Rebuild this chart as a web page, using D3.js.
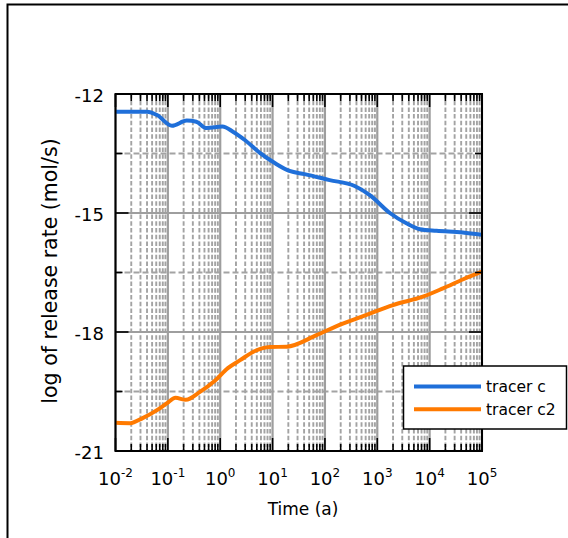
<!DOCTYPE html>
<html>
<head>
<meta charset="utf-8">
<script src="https://cdn.jsdelivr.net/npm/d3@7"></script>
<style>
  html, body { margin: 0; padding: 0; background: #fff; }
  svg { display: block; font-family: "DejaVu Sans", Verdana, sans-serif; }
</style>
</head>
<body>
<svg id="chart" width="568" height="538"></svg>
<script>
// Release-rate histories (time in years, log10 of release rate in mol/s)
const tracerCTime = [0.01, 0.04, 0.062, 0.12, 0.23, 0.35, 0.55, 1.1, 1.75, 2.95, 5.8, 11, 21, 41, 123, 370, 720, 1740, 3600, 6500, 13500, 43000, 100000];
const tracerCRate = [-12.45, -12.45, -12.53, -12.80, -12.67, -12.70, -12.86, -12.82, -12.95, -13.16, -13.49, -13.74, -13.94, -14.02, -14.17, -14.32, -14.55, -15.00, -15.26, -15.41, -15.45, -15.49, -15.55];

const tracerC2Time = [0.01, 0.019, 0.033, 0.062, 0.095, 0.14, 0.22, 0.41, 0.79, 1.4, 2.4, 4.6, 8.9, 18.6, 69, 190, 620, 2000, 7400, 18000, 44000, 100000];
const tracerC2Rate = [-20.29, -20.30, -20.17, -19.97, -19.80, -19.66, -19.71, -19.51, -19.23, -18.91, -18.71, -18.48, -18.38, -18.37, -18.08, -17.82, -17.57, -17.32, -17.11, -16.90, -16.67, -16.48];

const seriesNames = ["tracer c", "tracer c2"];
const seriesColors = ["#1f6fd9", "#ff7a00"];

const xDecades = [1e-2, 1e-1, 1e0, 1e1, 1e2, 1e3, 1e4, 1e5];
const xTickExponents = ["-2", "-1", "0", "1", "2", "3", "4", "5"];
const yMajorTicks = [-12, -15, -18, -21];
const yMinorTicks = [-13.5, -16.5, -19.5];

const svg = d3.select("#chart");
const plot = { left: 115.5, right: 482, top: 94, bottom: 451 };

const x = d3.scaleLog().domain([1e-2, 1e5]).range([plot.left, plot.right]);
const y = d3.scaleLinear().domain([-21, -12]).range([plot.bottom, plot.top]);

// outer frame
svg.append("path")
  .attr("d", `M7.5,600 V4.5 H700`)
  .attr("fill", "none").attr("stroke", "#000").attr("stroke-width", 2);

// minor log positions inside each decade
const xMinor = [];
for (let i = 0; i < xDecades.length - 1; i++) {
  for (let k = 2; k <= 9; k++) xMinor.push(k * xDecades[i]);
}

const grid = svg.append("g");
grid.selectAll(".vminor").data(xMinor).join("line")
  .attr("x1", d => x(d)).attr("x2", d => x(d))
  .attr("y1", plot.top).attr("y2", plot.bottom)
  .attr("stroke", "#a3a3a3").attr("stroke-width", 1.9)
  .attr("stroke-dasharray", "4.5,2.2");
grid.selectAll(".hminor").data(yMinorTicks).join("line")
  .attr("x1", plot.left).attr("x2", plot.right)
  .attr("y1", d => y(d)).attr("y2", d => y(d))
  .attr("stroke", "#a3a3a3").attr("stroke-width", 1.9)
  .attr("stroke-dasharray", "6,3");
grid.selectAll(".vmajor").data(xDecades).join("line")
  .attr("x1", d => x(d)).attr("x2", d => x(d))
  .attr("y1", plot.top).attr("y2", plot.bottom)
  .attr("stroke", "#9e9e9e").attr("stroke-width", 2.2);
grid.selectAll(".hmajor").data(yMajorTicks).join("line")
  .attr("x1", plot.left).attr("x2", plot.right)
  .attr("y1", d => y(d)).attr("y2", d => y(d))
  .attr("stroke", "#9e9e9e").attr("stroke-width", 2.2);

// curves
const line = d3.line()
  .x(d => x(d[0])).y(d => y(d[1]))
  .curve(d3.curveMonotoneX);
const series = [
  d3.zip(tracerCTime, tracerCRate),
  d3.zip(tracerC2Time, tracerC2Rate)
];
svg.append("g").selectAll("path").data(series).join("path")
  .attr("d", line)
  .attr("fill", "none")
  .attr("stroke", (d, i) => seriesColors[i])
  .attr("stroke-width", 4)
  .attr("stroke-linejoin", "round");

// axes frame with inward ticks on all four sides
const axes = svg.append("g").attr("stroke", "#000");
const majorLen = 13, minorLen = 7;
[plot.top, plot.bottom].forEach((edge, s) => {
  const dir = s === 0 ? 1 : -1;
  axes.selectAll(null).data(xMinor).join("line")
    .attr("x1", d => x(d)).attr("x2", d => x(d))
    .attr("y1", edge).attr("y2", edge + dir * minorLen)
    .attr("stroke-width", 1.6);
  axes.selectAll(null).data(xDecades).join("line")
    .attr("x1", d => x(d)).attr("x2", d => x(d))
    .attr("y1", edge).attr("y2", edge + dir * majorLen)
    .attr("stroke-width", 1.6);
});
[plot.left, plot.right].forEach((edge, s) => {
  const dir = s === 0 ? 1 : -1;
  axes.selectAll(null).data(yMinorTicks).join("line")
    .attr("x1", edge).attr("x2", edge + dir * minorLen)
    .attr("y1", d => y(d)).attr("y2", d => y(d))
    .attr("stroke-width", 1.6);
  axes.selectAll(null).data(yMajorTicks).join("line")
    .attr("x1", edge).attr("x2", edge + dir * majorLen)
    .attr("y1", d => y(d)).attr("y2", d => y(d))
    .attr("stroke-width", 1.6);
});
axes.append("rect")
  .attr("x", plot.left).attr("y", plot.top)
  .attr("width", plot.right - plot.left).attr("height", plot.bottom - plot.top)
  .attr("fill", "none").attr("stroke-width", 2);

// tick labels
svg.append("g").selectAll("text").data(yMajorTicks).join("text")
  .attr("x", 104).attr("y", d => y(d) + 8)
  .attr("text-anchor", "end")
  .attr("font-size", 18).attr("fill", "#000")
  .text(d => d);

const xl = svg.append("g").selectAll("text").data(xDecades).join("text")
  .attr("x", d => x(d)).attr("y", 485)
  .attr("text-anchor", "middle")
  .attr("font-size", 18).attr("fill", "#000");
xl.append("tspan").text("10");
xl.append("tspan")
  .attr("font-size", 12).attr("dy", -8)
  .text((d, i) => xTickExponents[i]);

// axis titles
svg.append("text")
  .attr("x", 303).attr("y", 515)
  .attr("text-anchor", "middle").attr("font-size", 17).attr("fill", "#000")
  .text("Time (a)");
svg.append("text")
  .attr("transform", "translate(57,271) rotate(-90)")
  .attr("text-anchor", "middle").attr("font-size", 20.5).attr("fill", "#000")
  .text("log of release rate (mol/s)");

// legend
const lg = svg.append("g");
lg.append("rect")
  .attr("x", 403.5).attr("y", 366).attr("width", 163).attr("height", 63)
  .attr("fill", "#fff").attr("stroke", "#000").attr("stroke-width", 1.5);
seriesNames.forEach((name, i) => {
  const ly = 386.5 + i * 22.7;
  lg.append("line")
    .attr("x1", 414).attr("x2", 481).attr("y1", ly).attr("y2", ly)
    .attr("stroke", seriesColors[i]).attr("stroke-width", 4);
  lg.append("text")
    .attr("x", 486).attr("y", ly + 5.5)
    .attr("font-size", 15.5).attr("fill", "#000")
    .text(name);
});
</script>
</body>
</html>
